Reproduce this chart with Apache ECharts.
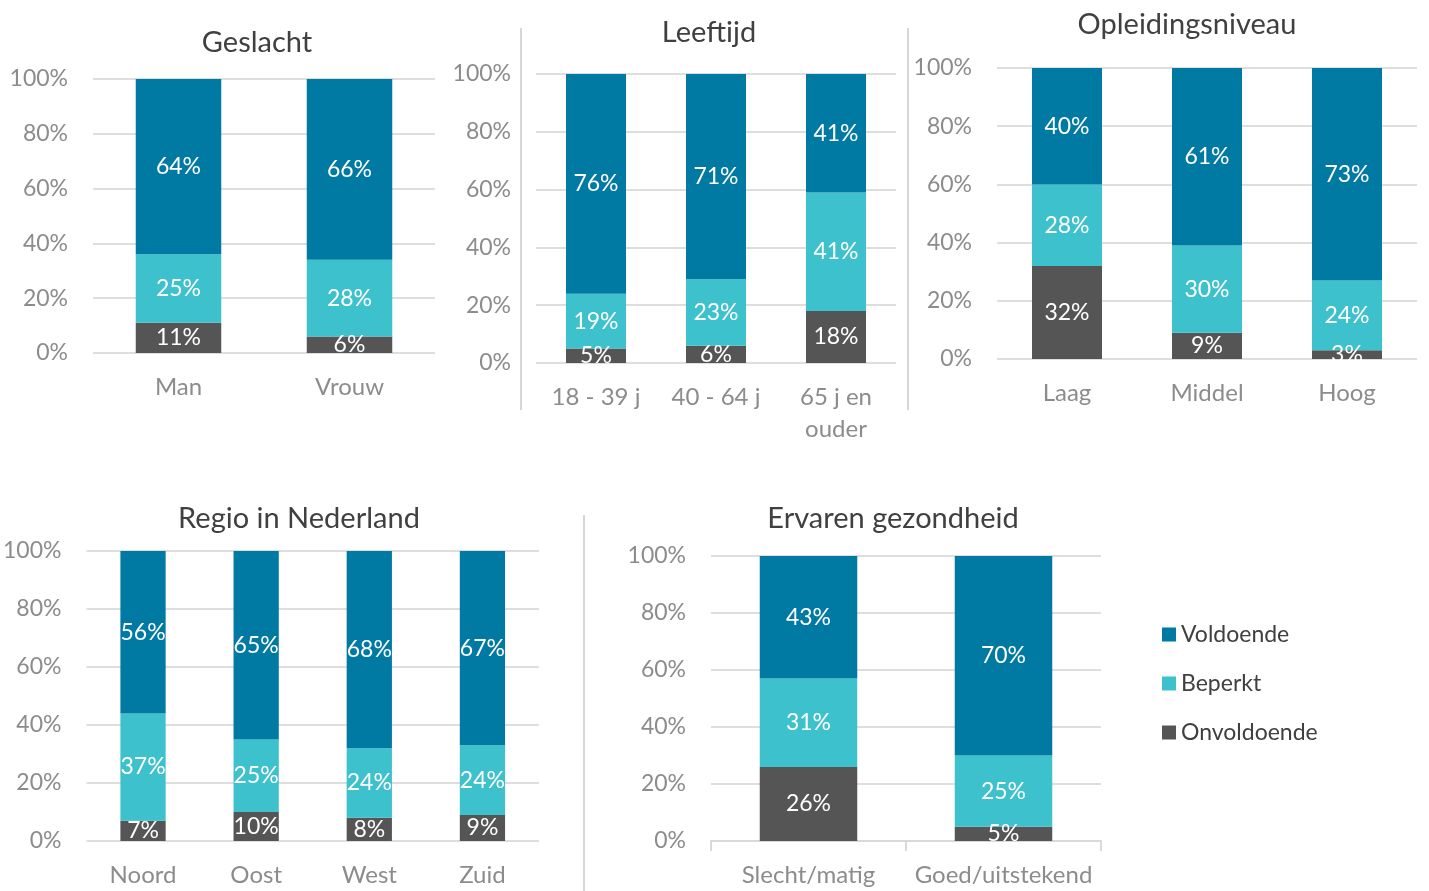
<!DOCTYPE html>
<html>
<head>
<meta charset="utf-8">
<title>Gezondheidsvaardigheden</title>
<script src="https://cdn.jsdelivr.net/npm/echarts@6/dist/echarts.min.js"></script>
<style>
  html, body { margin: 0; padding: 0; background: #fff; }
  #main { width: 1429px; height: 891px; }
</style>
</head>
<body>
<div id="main"></div>
<script>
// data (percentages)
var geslachtCats = ['Man', 'Vrouw'];
var geslachtOnv = [11, 6];
var geslachtBep = [25, 28];
var geslachtVol = [64, 66];

var leeftijdCats = ['18 - 39 j', '40 - 64 j', '65 j en\nouder'];
var leeftijdOnv = [5, 6, 18];
var leeftijdBep = [19, 23, 41];
var leeftijdVol = [76, 71, 41];

var opleidingCats = ['Laag', 'Middel', 'Hoog'];
var opleidingOnv = [32, 9, 3];
var opleidingBep = [28, 30, 24];
var opleidingVol = [40, 61, 73];

var regioCats = ['Noord', 'Oost', 'West', 'Zuid'];
var regioOnv = [7, 10, 8, 9];
var regioBep = [37, 25, 24, 24];
var regioVol = [56, 65, 68, 67];

var gezondCats = ['Slecht/matig', 'Goed/uitstekend'];
var gezondOnv = [26, 5];
var gezondBep = [31, 25];
var gezondVol = [43, 70];

var yTicks = [0, 20, 40, 60, 80, 100];

var kleurVol = '#0079a3';
var kleurBep = '#3dc1cd';
var kleurOnv = '#555555';
var font = 'Lato';
var grijs = '#8c8c8c';

var panels = [
    {title: 'Geslacht', tx: 252, ty: 23, grid: {left: 93, top: 79, width: 342, height: 274}, cats: geslachtCats, onv: geslachtOnv, bep: geslachtBep, vol: geslachtVol, bw: '50%'},
    {title: 'Leeftijd', tx: 704, ty: 13, grid: {left: 536, top: 74, width: 360, height: 289}, cats: leeftijdCats, onv: leeftijdOnv, bep: leeftijdBep, vol: leeftijdVol, bw: '50%'},
    {title: 'Opleidingsniveau', tx: 1182, ty: 5, grid: {left: 997, top: 68, width: 420, height: 291}, cats: opleidingCats, onv: opleidingOnv, bep: opleidingBep, vol: opleidingVol, bw: '50%'},
    {title: 'Regio in Nederland', tx: 294, ty: 499, grid: {left: 86, top: 551, width: 453, height: 290}, cats: regioCats, onv: regioOnv, bep: regioBep, vol: regioVol, bw: '40%'},
    {title: 'Ervaren gezondheid', tx: 888, ty: 499, grid: {left: 711, top: 556, width: 390, height: 287}, cats: gezondCats, onv: gezondOnv, bep: gezondBep, vol: gezondVol, bw: '50%', axisLine: true}
];

var titles = [], grids = [], xAxes = [], yAxes = [], series = [];

for (var i = 0; i < panels.length; i++) {
    var p = panels[i];
    titles.push({
        text: p.title,
        left: p.tx,
        top: p.ty,
        textAlign: 'center',
        textStyle: {fontFamily: font, fontSize: 29, fontWeight: 'normal', color: '#404040'}
    });
    grids.push({left: p.grid.left, top: p.grid.top, width: p.grid.width, height: p.grid.height, containLabel: false});
    xAxes.push({
        type: 'category',
        gridIndex: i,
        data: p.cats,
        axisLine: {show: !!p.axisLine, lineStyle: {color: '#d9d9d9', width: 2}},
        axisTick: {show: !!p.axisLine, length: 10, lineStyle: {color: '#d9d9d9', width: 2}},
        axisLabel: {interval: 0, hideOverlap: false, color: grijs, fontFamily: font, fontSize: 24, margin: 18, lineHeight: 32}
    });
    yAxes.push({
        type: 'value',
        gridIndex: i,
        min: yTicks[0],
        max: yTicks[yTicks.length - 1],
        interval: 20,
        axisLine: {show: false},
        axisTick: {show: false},
        axisLabel: {color: grijs, fontFamily: font, fontSize: 23, margin: 25, formatter: '{value}%'},
        splitLine: {show: true, lineStyle: {color: '#dedede', width: 2}}
    });
    var lbl = {show: true, position: 'inside', color: '#fff', fontFamily: font, fontSize: 23, formatter: '{c}%'};
    series.push({name: 'Onvoldoende', type: 'bar', stack: 'p' + i, xAxisIndex: i, yAxisIndex: i, data: p.onv, barWidth: p.bw, itemStyle: {color: kleurOnv}, label: lbl});
    series.push({name: 'Beperkt', type: 'bar', stack: 'p' + i, xAxisIndex: i, yAxisIndex: i, data: p.bep, barWidth: p.bw, itemStyle: {color: kleurBep}, label: lbl});
    series.push({name: 'Voldoende', type: 'bar', stack: 'p' + i, xAxisIndex: i, yAxisIndex: i, data: p.vol, barWidth: p.bw, itemStyle: {color: kleurVol}, label: lbl});
}

var myChart = echarts.init(document.getElementById('main'));

var option = {
    animation: false,
    backgroundColor: '#fff',
    title: titles,
    grid: grids,
    xAxis: xAxes,
    yAxis: yAxes,
    legend: {
        data: ['Voldoende', 'Beperkt', 'Onvoldoende'],
        orient: 'vertical',
        left: 1157,
        top: 618,
        icon: 'rect',
        itemWidth: 14,
        itemHeight: 14,
        itemGap: 26,
        textStyle: {fontFamily: font, fontSize: 23, color: '#404040', padding: [0, 0, 0, 0]}
    },
    // scheidingslijnen tussen de panelen
    graphic: [
        {type: 'line', shape: {x1: 521, y1: 28, x2: 521, y2: 410}, style: {stroke: '#c8c8c8', lineWidth: 1.5}},
        {type: 'line', shape: {x1: 908, y1: 28, x2: 908, y2: 410}, style: {stroke: '#c8c8c8', lineWidth: 1.5}},
        {type: 'line', shape: {x1: 584, y1: 515, x2: 584, y2: 891}, style: {stroke: '#c8c8c8', lineWidth: 1.5}}
    ],
    series: series
};

myChart.setOption(option);
</script>
</body>
</html>
